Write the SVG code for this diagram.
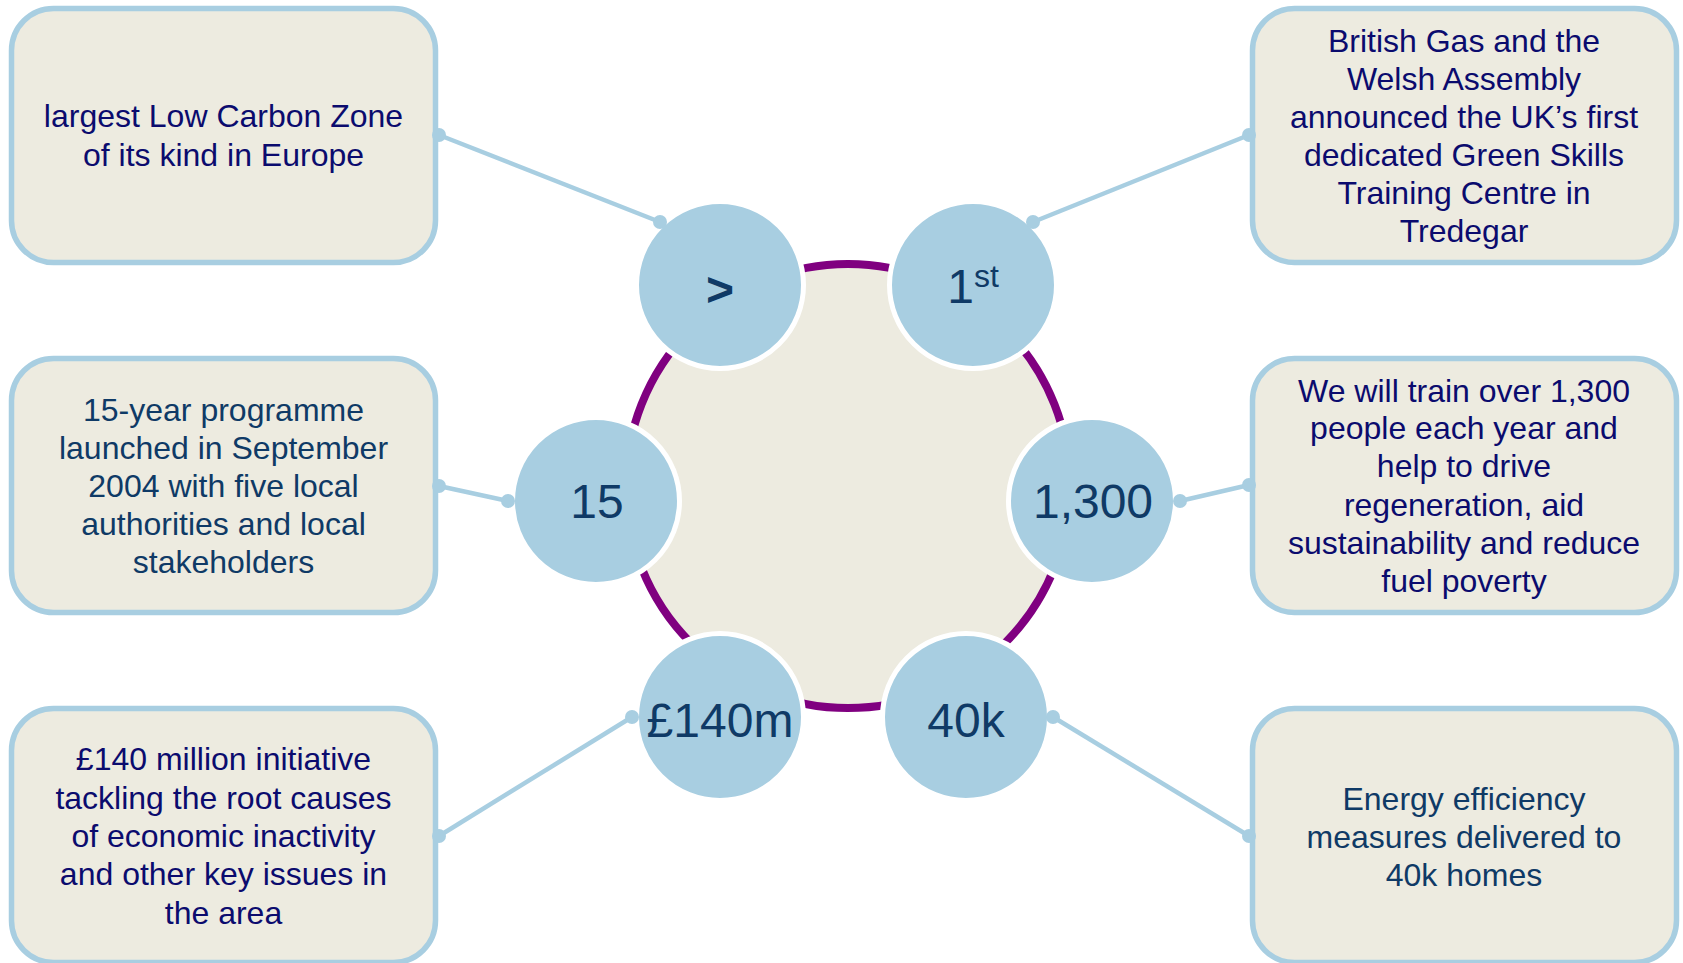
<svg xmlns="http://www.w3.org/2000/svg" width="1683" height="963" viewBox="0 0 1683 963">
<style>
.box{fill:#EDEBE0;stroke:#A8CEE1;stroke-width:5.5}
.bt{font-family:"Liberation Sans",Arial,sans-serif;font-size:32px;text-anchor:middle;fill:#0B0B6E}
.bt2{fill:#0F3A66}
.node{fill:#A8CEE1;stroke:#FFFFFF;stroke-width:5}
.nt{font-family:"Liberation Sans",Arial,sans-serif;font-size:48px;text-anchor:middle;fill:#0F3A66}
.con line{stroke:#A8CEE1;stroke-width:4.5}
.con circle{fill:#A8CEE1}
</style>
<rect width="1683" height="963" fill="#FFFFFF"/>
<g id="box-tl"><rect class="box" x="11.5" y="8.5" width="424" height="254" rx="42"/>
<text class="bt" x="223.5" y="127">largest Low Carbon Zone</text>
<text class="bt" x="223.5" y="166">of its kind in Europe</text></g>
<g id="box-ml"><rect class="box" x="11.5" y="358.5" width="424" height="254" rx="42"/>
<text class="bt bt2" x="223.5" y="421">15-year programme</text>
<text class="bt bt2" x="223.5" y="459">launched in September</text>
<text class="bt bt2" x="223.5" y="497">2004 with five local</text>
<text class="bt bt2" x="223.5" y="535">authorities and local</text>
<text class="bt bt2" x="223.5" y="573">stakeholders</text></g>
<g id="box-bl"><rect class="box" x="11.5" y="708.5" width="424" height="254" rx="42"/>
<text class="bt" x="223.5" y="770">£140 million initiative</text>
<text class="bt" x="223.5" y="809">tackling the root causes</text>
<text class="bt" x="223.5" y="847">of economic inactivity</text>
<text class="bt" x="223.5" y="885">and other key issues in</text>
<text class="bt" x="223.5" y="924">the area</text></g>
<g id="box-tr"><rect class="box" x="1252.5" y="8.5" width="424" height="254" rx="42"/>
<text class="bt" x="1464" y="52">British Gas and the</text>
<text class="bt" x="1464" y="90">Welsh Assembly</text>
<text class="bt" x="1464" y="128">announced the UK’s first</text>
<text class="bt" x="1464" y="166">dedicated Green Skills</text>
<text class="bt" x="1464" y="204">Training Centre in</text>
<text class="bt" x="1464" y="242">Tredegar</text></g>
<g id="box-mr"><rect class="box" x="1252.5" y="358.5" width="424" height="254" rx="42"/>
<text class="bt" x="1464" y="402">We will train over 1,300</text>
<text class="bt" x="1464" y="439">people each year and</text>
<text class="bt" x="1464" y="477">help to drive</text>
<text class="bt" x="1464" y="516">regeneration, aid</text>
<text class="bt" x="1464" y="554">sustainability and reduce</text>
<text class="bt" x="1464" y="592">fuel poverty</text></g>
<g id="box-br"><rect class="box" x="1252.5" y="708.5" width="424" height="254" rx="42"/>
<text class="bt bt2" x="1464" y="810">Energy efficiency</text>
<text class="bt bt2" x="1464" y="848">measures delivered to</text>
<text class="bt bt2" x="1464" y="886">40k homes</text></g>
<g id="ring"><circle cx="848" cy="486" r="222" fill="#EDEBE0" stroke="#800080" stroke-width="8"/></g>
<g id="n-gt"><circle class="node" cx="720" cy="285" r="83.5"/><text class="nt" x="720" y="306" font-weight="bold">&gt;</text></g>
<g id="n-1st"><circle class="node" cx="973" cy="285" r="83.5"/><text class="nt" x="973" y="303">1<tspan font-size="32" dy="-16">st</tspan></text></g>
<g id="n-15"><circle class="node" cx="596" cy="501" r="83.5"/><text class="nt" x="597" y="518">15</text></g>
<g id="n-1300"><circle class="node" cx="1092" cy="501" r="83.5"/><text class="nt" x="1093" y="518">1,300</text></g>
<g id="n-140m"><circle class="node" cx="720" cy="717" r="83.5"/><text class="nt" x="720" y="737">£140m</text></g>
<g id="n-40k"><circle class="node" cx="966" cy="717" r="83.5"/><text class="nt" x="966" y="737">40k</text></g>
<g id="connectors" class="con">
<line x1="439" y1="135" x2="660" y2="222"/><circle cx="439" cy="135" r="7"/><circle cx="660" cy="222" r="7"/>
<line x1="1249" y1="135" x2="1033" y2="222"/><circle cx="1249" cy="135" r="7"/><circle cx="1033" cy="222" r="7"/>
<line x1="439" y1="486" x2="508" y2="501"/><circle cx="439" cy="486" r="7"/><circle cx="508" cy="501" r="7"/>
<line x1="1249" y1="485" x2="1180" y2="501"/><circle cx="1249" cy="485" r="7"/><circle cx="1180" cy="501" r="7"/>
<line x1="439" y1="836" x2="632" y2="717"/><circle cx="439" cy="836" r="7"/><circle cx="632" cy="717" r="7"/>
<line x1="1249" y1="836" x2="1053" y2="717"/><circle cx="1249" cy="836" r="7"/><circle cx="1053" cy="717" r="7"/>
</g>
</svg>
